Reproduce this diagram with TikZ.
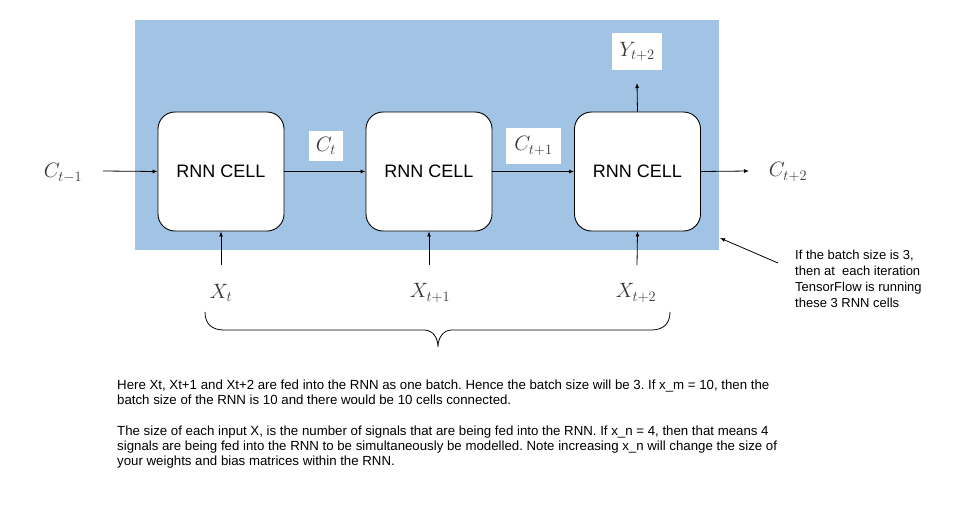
\documentclass[tikz,border=0pt]{standalone}
\usepackage{fontspec}
\setmainfont{Liberation Sans}
\frenchspacing
\usetikzlibrary{arrows.meta}
\definecolor{batchblue}{RGB}{161,196,229}
\definecolor{mathgray}{RGB}{55,55,55}
\tikzset{
  cellbox/.style={draw=black, line width=0.9pt, fill=white, rounded corners=17pt,
    minimum width=126pt, minimum height=119pt, inner sep=0pt,
    font=\fontsize{18}{21}\selectfont},
  mathlbl/.style={text=mathgray, inner sep=0pt, font=\fontsize{20}{24}\selectfont},
  whitebox/.style={fill=white, inner sep=0pt, text=mathgray, font=\fontsize{20}{24}\selectfont},
  conn/.style={line width=0.8pt, -{Latex[length=5pt,width=4pt]}},
  bodytext/.style={inner sep=0pt, align=left, font=\fontsize{13.25}{15}\selectfont\frenchspacing},
}
\begin{document}
\begin{tikzpicture}[x=1pt,y=-1pt]
\useasboundingbox (0,0) rectangle (961,517);
\fill[white] (0,0) rectangle (961,517);
% batch background
\fill[batchblue] (135,20) rectangle (719,250);
\coordinate (bgcorner) at (720,238);

% cells
\node[cellbox] (cell1) at (221,171.5) {RNN CELL};
\node[cellbox] (cell2) at (429,171.5) {RNN CELL};
\node[cellbox] (cell3) at (637.5,171.5) {RNN CELL};

% state labels
\node[mathlbl] (c0) at (63,173) {$C_{t-1}$};
\node[whitebox, minimum width=34pt, minimum height=30pt] (c1) at (326,146) {$C_t$};
\node[whitebox, minimum width=55pt, minimum height=36pt] (c2) at (533.5,146) {$C_{t+1}$};
\node[mathlbl] (c3) at (788,172) {$C_{t+2}$};
\node[whitebox, minimum width=50pt, minimum height=37pt] (y3) at (637,51.5) {$Y_{t+2}$};

% inputs
\node[mathlbl] (x1) at (221,293) {$X_t$};
\node[mathlbl] (x2) at (430,293) {$X_{t+1}$};
\node[mathlbl] (x3) at (636,293) {$X_{t+2}$};

% free ends
\coordinate (c0end) at (103,171);
\coordinate (c3end) at (749,171);
\coordinate (y3end) at (637,83);
\coordinate (x1end) at (221,265);
\coordinate (x2end) at (429,265);
\coordinate (x3end) at (637,265);

% connectors
\draw[conn] (c0end) -- (cell1.west);
\draw[conn] (cell1.east) -- (cell2.west);
\draw[conn] (cell2.east) -- (cell3.west);
\draw[conn] (cell3.east) -- (c3end);
\draw[conn] (cell3.north) -- (y3end);
\draw[conn] (x1end) -- (cell1.south);
\draw[conn] (x2end) -- (cell2.south);
\draw[conn] (x3end) -- (cell3.south);

% brace
\draw[line width=0.8pt] (205,312) .. controls (205,324) and (212,330) .. (224,330)
  -- (424,330) .. controls (433,330) and (438,338) .. (438,347)
  .. controls (438,338) and (443,330) .. (452,330)
  -- (651,330) .. controls (663,330) and (670,324) .. (670,312);

% annotation
\coordinate (annstart) at (778,263);
\draw[conn] (annstart) -- (bgcorner);
\node[bodytext, anchor=base west, font=\fontsize{13}{16}\selectfont] (ann) at (795,307)
  {If the batch size is 3,\\then at\ \ each iteration\\TensorFlow is running\\these 3 RNN cells};

% explanation
\node[bodytext, anchor=base west] (para1) at (117,404)
  {Here Xt, Xt+1 and Xt+2 are fed into the RNN as one batch. Hence the batch size will be 3. If x\_m = 10, then the\\batch size of the RNN is 10 and there would be 10 cells connected.};
\node[bodytext, anchor=base west] (para2) at (117,465)
  {The size of each input X, is the number of signals that are being fed into the RNN. If x\_n = 4, then that means 4\\signals are being fed into the RNN to be simultaneously be modelled. Note increasing x\_n will change the size of\\your weights and bias matrices within the RNN.};
\end{tikzpicture}
\end{document}
